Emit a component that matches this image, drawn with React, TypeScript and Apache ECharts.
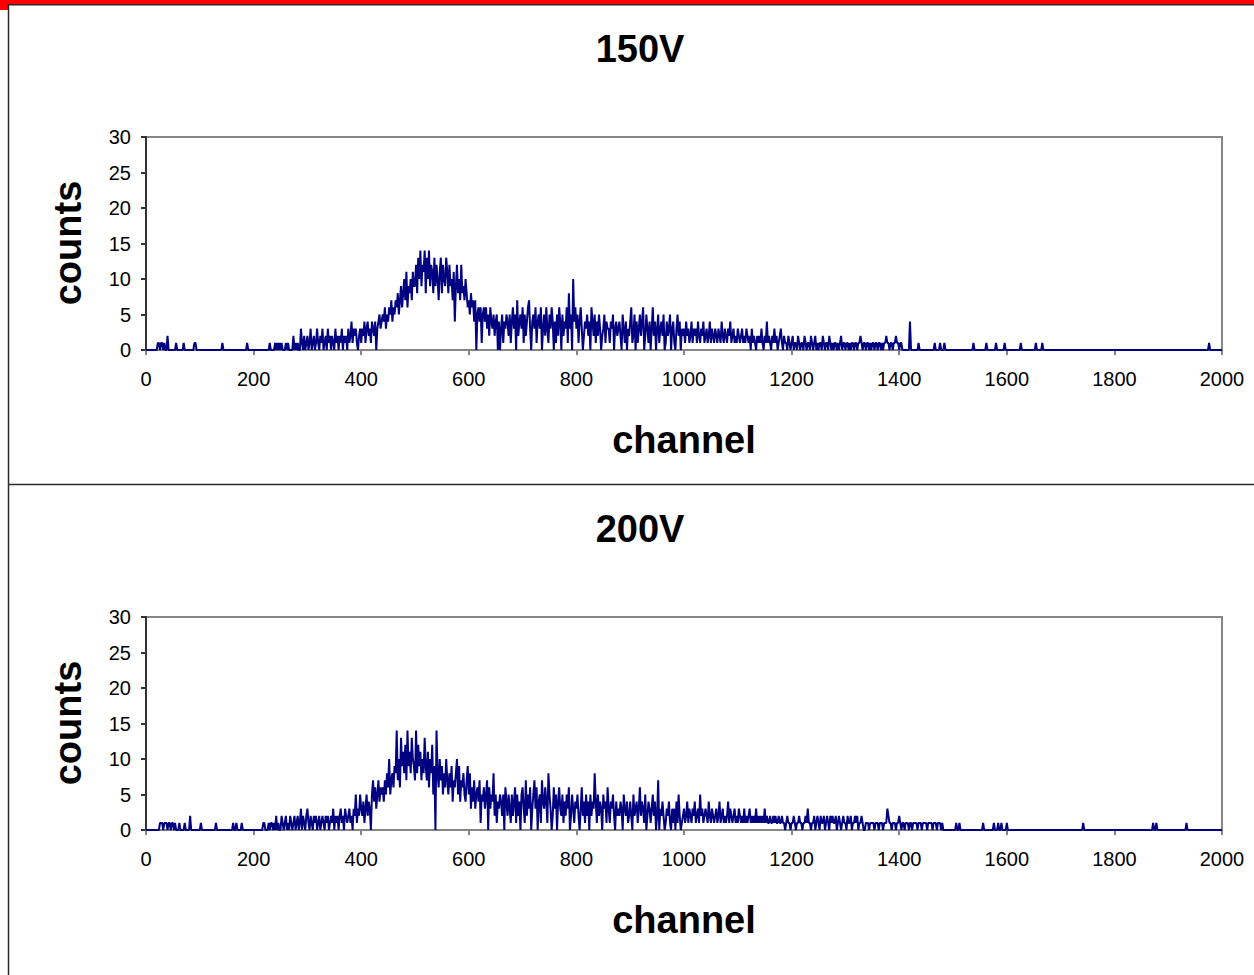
import React, { useEffect, useRef } from "react";
import * as echarts from "echarts";

// ---------------- data ----------------
const CHANNEL_STEP = 2;
const CHANNEL_MAX = 2000;
const xTicks = [0, 200, 400, 600, 800, 1000, 1200, 1400, 1600, 1800, 2000];
const yTicks = [0, 5, 10, 15, 20, 25, 30];
const panelTitles = ["150V", "200V"];
const xAxisTitle = "channel";
const yAxisTitle = "counts";

// 150V: dense counts starting at channel 260, every 2 channels
const dense150Start = 260;
const dense150 = [
  1, 0, 1, 0, 0, 0, 0, 2, 0, 1,
  0, 1, 0, 0, 3, 1, 0, 2, 0, 1,
  2, 0, 1, 3, 0, 1, 2, 0, 1, 3,
  1, 0, 2, 1, 3, 0, 1, 2, 0, 3,
  1, 2, 0, 2, 1, 0, 3, 1, 2, 0,
  2, 1, 3, 0, 2, 1, 2, 0, 3, 1,
  2, 4, 1, 3, 2, 3, 1, 0, 2, 3,
  1, 3, 2, 4, 1, 3, 4, 2, 3, 1,
  4, 3, 2, 4, 0, 3, 4, 5, 3, 4,
  5, 4, 6, 3, 5, 4, 6, 5, 7, 4,
  6, 5, 7, 6, 8, 5, 7, 9, 6, 8,
  10, 7, 11, 6, 9, 8, 10, 7, 11, 9,
  9, 12, 8, 13, 10, 14, 9, 12, 11, 14,
  8, 13, 10, 14, 9, 12, 11, 8, 13, 9,
  12, 10, 7, 11, 13, 8, 12, 10, 9, 13,
  11, 8, 12, 9, 10, 7, 11, 4, 9, 12,
  8, 10, 7, 12, 8, 9, 7, 10, 8, 6,
  7, 5, 8, 6, 7, 4, 7, 0, 5, 6,
  4, 6, 1, 5, 6, 4, 6, 3, 5, 2,
  6, 4, 3, 5, 2, 4, 5, 0, 4, 0,
  3, 5, 1, 4, 3, 5, 4, 2, 5, 1,
  4, 6, 3, 5, 0, 7, 2, 4, 5, 3,
  6, 1, 5, 2, 4, 6, 7, 3, 0, 4,
  5, 3, 6, 1, 4, 5, 3, 6, 0, 3,
  5, 2, 6, 3, 1, 5, 3, 6, 4, 0,
  4, 1, 5, 2, 6, 4, 0, 5, 2, 4,
  3, 6, 1, 8, 3, 5, 0, 10, 4, 6,
  3, 5, 1, 4, 6, 3, 0, 2, 4, 3,
  5, 2, 4, 0, 6, 4, 2, 5, 1, 4,
  2, 5, 3, 0, 2, 3, 5, 1, 4, 3,
  3, 1, 4, 3, 5, 0, 3, 4, 2, 3,
  4, 2, 0, 5, 3, 1, 4, 0, 3, 2,
  4, 6, 1, 2, 5, 0, 4, 1, 3, 5,
  2, 4, 6, 0, 2, 5, 3, 1, 4, 0,
  3, 6, 2, 4, 0, 3, 5, 1, 3, 4,
  2, 5, 0, 1, 4, 2, 3, 5, 0, 3,
  4, 1, 0, 3, 5, 2, 4, 0, 3, 2,
  3, 1, 4, 2, 3, 1, 2, 4, 1, 3,
  2, 3, 1, 4, 2, 1, 3, 2, 4, 1,
  2, 3, 1, 2, 4, 1, 3, 2, 1, 3,
  2, 1, 3, 2, 1, 4, 2, 1, 3, 2,
  1, 3, 2, 4, 1, 2, 3, 1, 2, 1,
  3, 2, 1, 2, 3, 1, 2, 1, 3, 2,
  1, 2, 0, 3, 1, 2, 1, 0, 2, 1,
  2, 1, 3, 1, 0, 2, 1, 4, 1, 2,
  1, 0, 2, 1, 3, 1, 2, 0, 1, 2,
  3, 1, 0, 2, 1, 1, 0, 2, 1, 0,
  1, 2, 0, 1, 1, 0, 2, 1, 0, 1,
  1, 0, 2, 1, 0, 1, 1, 0, 2, 1,
  0, 1, 2, 0, 1, 0, 1, 1, 0, 2,
  1, 0, 1, 1, 0, 2, 1, 0, 1, 0,
  1, 1, 0, 1, 0, 1, 2, 0, 1, 1,
  0, 1, 1, 0, 1, 0, 1, 1, 0, 1,
  1, 0, 1, 1, 2, 1, 0, 1, 1, 0,
  1, 1, 0, 1, 0, 1, 1, 0, 1, 1,
  0, 1, 1, 0, 1, 0, 1, 1, 2, 1,
  1, 0, 1, 1, 0, 1, 1, 2, 1, 1,
  0, 1, 1, 0, 0, 0, 0, 0, 0, 0,
];
// 150V: isolated channels [channel, count]
const sparse150: [number, number][] = [
  [22, 1], [24, 1], [28, 1], [30, 1], [34, 1], [40, 2], [56, 1], [70, 1],
  [90, 1], [92, 1], [142, 1], [188, 1], [230, 1], [240, 1], [244, 1],
  [248, 1], [252, 1], [1420, 4], [1436, 1], [1466, 1], [1476, 1],
  [1484, 1], [1538, 1], [1562, 1], [1580, 1], [1596, 1], [1626, 1],
  [1654, 1], [1666, 1], [1976, 1],
];

// 200V: dense counts starting at channel 220, every 2 channels
const dense200Start = 220;
const dense200 = [
  1, 0, 0, 0, 1, 0, 1, 1, 0, 1,
  0, 2, 0, 1, 0, 0, 2, 1, 0, 1,
  2, 0, 1, 0, 2, 1, 0, 1, 2, 0,
  1, 2, 0, 1, 3, 0, 2, 1, 0, 2,
  3, 1, 0, 2, 1, 0, 2, 1, 2, 0,
  1, 2, 0, 1, 2, 1, 0, 2, 1, 2,
  0, 1, 2, 1, 3, 0, 2, 1, 2, 0,
  2, 3, 1, 2, 0, 3, 2, 1, 2, 3,
  1, 2, 0, 3, 2, 5, 1, 3, 2, 5,
  3, 2, 4, 1, 3, 5, 2, 4, 3, 0,
  5, 7, 4, 6, 3, 5, 7, 4, 6, 5,
  6, 4, 7, 5, 8, 6, 10, 5, 7, 8,
  6, 9, 8, 14, 7, 10, 6, 13, 9, 11,
  8, 12, 7, 14, 9, 11, 8, 13, 10, 9,
  7, 14, 8, 12, 9, 11, 7, 10, 8, 13,
  9, 7, 11, 6, 10, 8, 12, 5, 9, 0,
  14, 8, 6, 10, 7, 9, 5, 8, 6, 10,
  7, 5, 8, 6, 9, 4, 7, 6, 8, 10,
  5, 9, 4, 7, 6, 8, 5, 4, 7, 9,
  5, 8, 3, 6, 4, 7, 3, 5, 6, 4,
  7, 1, 5, 4, 6, 3, 5, 7, 0, 6,
  3, 5, 4, 8, 2, 5, 1, 4, 3, 5,
  4, 2, 5, 0, 6, 4, 2, 5, 3, 1,
  5, 2, 4, 6, 1, 5, 2, 4, 0, 5,
  6, 3, 1, 7, 2, 5, 3, 6, 0, 3,
  5, 7, 3, 6, 0, 4, 5, 1, 7, 4,
  3, 6, 4, 1, 8, 5, 3, 0, 2, 6,
  3, 5, 0, 4, 6, 3, 2, 5, 1, 4,
  2, 5, 3, 6, 0, 2, 5, 3, 1, 4,
  3, 5, 2, 0, 3, 6, 2, 4, 1, 5,
  2, 4, 0, 5, 2, 4, 3, 8, 4, 1,
  5, 2, 4, 3, 0, 5, 3, 4, 1, 6,
  3, 1, 4, 3, 5, 2, 0, 4, 2, 3,
  2, 4, 3, 0, 5, 3, 2, 4, 1, 2,
  4, 2, 0, 5, 2, 3, 4, 1, 3, 6,
  2, 4, 3, 1, 5, 0, 2, 4, 3, 1,
  3, 5, 2, 4, 0, 2, 7, 0, 3, 2,
  4, 2, 0, 1, 3, 2, 4, 1, 0, 3,
  1, 3, 0, 4, 1, 5, 2, 0, 1, 2,
  3, 1, 2, 4, 1, 3, 2, 1, 3, 2,
  4, 1, 2, 3, 1, 5, 2, 3, 1, 2,
  3, 2, 1, 4, 2, 1, 3, 2, 1, 2,
  3, 1, 2, 4, 1, 2, 3, 1, 2, 1,
  2, 4, 1, 3, 2, 1, 2, 3, 1, 2,
  1, 3, 2, 1, 2, 1, 3, 1, 2, 1,
  2, 3, 1, 2, 1, 2, 1, 3, 1, 2,
  1, 2, 1, 2, 1, 3, 1, 2, 1, 1,
  2, 1, 1, 2, 1, 2, 1, 1, 2, 1,
  1, 2, 1, 1, 0, 1, 2, 1, 1, 0,
  1, 1, 2, 1, 0, 1, 1, 2, 1, 1,
  0, 1, 1, 2, 1, 3, 1, 1, 0, 1,
  1, 2, 0, 1, 2, 1, 0, 2, 1, 1,
  2, 0, 1, 2, 1, 0, 2, 1, 2, 1,
  1, 2, 0, 1, 2, 1, 0, 1, 2, 1,
  1, 0, 2, 1, 1, 2, 0, 1, 1, 2,
  1, 2, 0, 1, 1, 2, 1, 0, 0, 1,
  1, 1, 0, 1, 1, 1, 1, 0, 1, 1,
  1, 0, 1, 1, 1, 0, 1, 1, 1, 3,
  2, 1, 1, 0, 1, 1, 1, 0, 1, 1,
  2, 1, 0, 1, 1, 0, 1, 1, 1, 0,
  1, 1, 0, 1, 1, 1, 1, 0, 1, 1,
  1, 0, 1, 1, 1, 1, 0, 1, 1, 1,
  1, 0, 1, 1, 1, 0, 1, 1, 1, 0,
  1, 0,
];
// 200V: isolated channels [channel, count]
const sparse200: [number, number][] = [
  [26, 1], [28, 1], [30, 1], [34, 1], [36, 1], [38, 1], [42, 1], [44, 1],
  [48, 1], [50, 1], [54, 1], [62, 1], [72, 1], [82, 2], [102, 1], [130, 1],
  [162, 1], [168, 1], [178, 1], [218, 1], [1506, 1], [1512, 1], [1556, 1],
  [1576, 1], [1584, 1], [1590, 1], [1600, 1], [1742, 1], [1872, 1],
  [1878, 1], [1934, 1],
];

function buildSeries(start: number, dense: number[], sparse: [number, number][]) {
  const m = new Map<number, number>();
  dense.forEach((v, i) => m.set(start + i * CHANNEL_STEP, v));
  sparse.forEach(([c, v]) => m.set(c, v));
  const out: [number, number][] = [];
  for (let c = 0; c <= CHANNEL_MAX; c += CHANNEL_STEP) out.push([c, m.get(c) ?? 0]);
  return out;
}

const FONT = "'Liberation Sans', Arial, Helvetica, sans-serif";

export default function App() {
  const ref = useRef<HTMLDivElement>(null);
  useEffect(() => {
    if (!ref.current) return;
    const chart = echarts.init(ref.current, undefined, { renderer: "svg" });
    const seriesData = [
      buildSeries(dense150Start, dense150, sparse150),
      buildSeries(dense200Start, dense200, sparse200),
    ];
    const tops = [137, 617];
    const offsets = [0, 480];
    const grids = tops.map((t) => ({
      left: 146,
      top: t,
      width: 1076,
      height: 213,
      show: true,
      borderColor: "#868686",
      borderWidth: 2,
      backgroundColor: "transparent",
    }));
    const xAxes = [0, 1].map((i) => ({
      type: "value",
      gridIndex: i,
      min: xTicks[0],
      max: xTicks[xTicks.length - 1],
      interval: xTicks[1] - xTicks[0],
      axisLine: { show: true, onZero: false, lineStyle: { color: "#868686", width: 2 } },
      axisTick: { show: true, length: 5, lineStyle: { color: "#868686", width: 2 } },
      axisLabel: {
        color: "#000",
        fontSize: 20,
        fontFamily: FONT,
        margin: 19,
        formatter: (v: number) => String(v),
      },
      splitLine: { show: false },
    }));
    const yAxes = [0, 1].map((i) => ({
      type: "value",
      gridIndex: i,
      min: yTicks[0],
      max: yTicks[yTicks.length - 1],
      interval: yTicks[1] - yTicks[0],
      axisLine: { show: true, onZero: false, lineStyle: { color: "#333", width: 2 } },
      axisTick: { show: true, length: 5, lineStyle: { color: "#333", width: 2 } },
      axisLabel: { color: "#000", fontSize: 20, fontFamily: FONT, margin: 15 },
      splitLine: { show: false },
    }));
    const series = [0, 1].map((i) => ({
      type: "line",
      xAxisIndex: i,
      yAxisIndex: i,
      data: seriesData[i],
      showSymbol: false,
      symbol: "none",
      lineStyle: { color: "#000080", width: 2 },
      itemStyle: { color: "#000080" },
      z: 5,
    }));
    const texts: any[] = [];
    offsets.forEach((o, i) => {
      texts.push({
        type: "text",
        x: 640,
        y: 49 + o,
        style: { text: panelTitles[i], font: `bold 38px ${FONT}`, fill: "#000", align: "center", verticalAlign: "middle" },
      });
      texts.push({
        type: "text",
        x: 684,
        y: 440 + o,
        style: { text: xAxisTitle, font: `bold 38px ${FONT}`, fill: "#000", align: "center", verticalAlign: "middle" },
      });
      texts.push({
        type: "text",
        x: 68,
        y: 243 + o,
        rotation: Math.PI / 2,
        style: { text: yAxisTitle, font: `bold 38px ${FONT}`, fill: "#000", align: "center", verticalAlign: "middle" },
      });
    });
    chart.setOption({
      animation: false,
      backgroundColor: "#fff",
      grid: grids,
      xAxis: xAxes,
      yAxis: yAxes,
      series,
      graphic: [
        { type: "rect", shape: { x: 0, y: 0, width: 1254, height: 4 }, style: { fill: "#ff0000" }, z: 10 },
        { type: "rect", shape: { x: 0, y: 0, width: 8, height: 10 }, style: { fill: "#ff0000" }, z: 10 },
        { type: "line", shape: { x1: 8.5, y1: 4, x2: 8.5, y2: 975 }, style: { stroke: "#2a2a2a", lineWidth: 1.5 }, z: 10 },
        { type: "line", shape: { x1: 8, y1: 4.75, x2: 1254, y2: 4.75 }, style: { stroke: "#2a2a2a", lineWidth: 1.5 }, z: 10 },
        { type: "line", shape: { x1: 8, y1: 484.5, x2: 1254, y2: 484.5 }, style: { stroke: "#2a2a2a", lineWidth: 1.5 }, z: 10 },
        ...texts,
      ],
    });
    return () => chart.dispose();
  }, []);
  return (
    <div
      ref={ref}
      style={{ position: "absolute", left: 0, top: 0, width: 1254, height: 975, background: "#fff" }}
    />
  );
}
